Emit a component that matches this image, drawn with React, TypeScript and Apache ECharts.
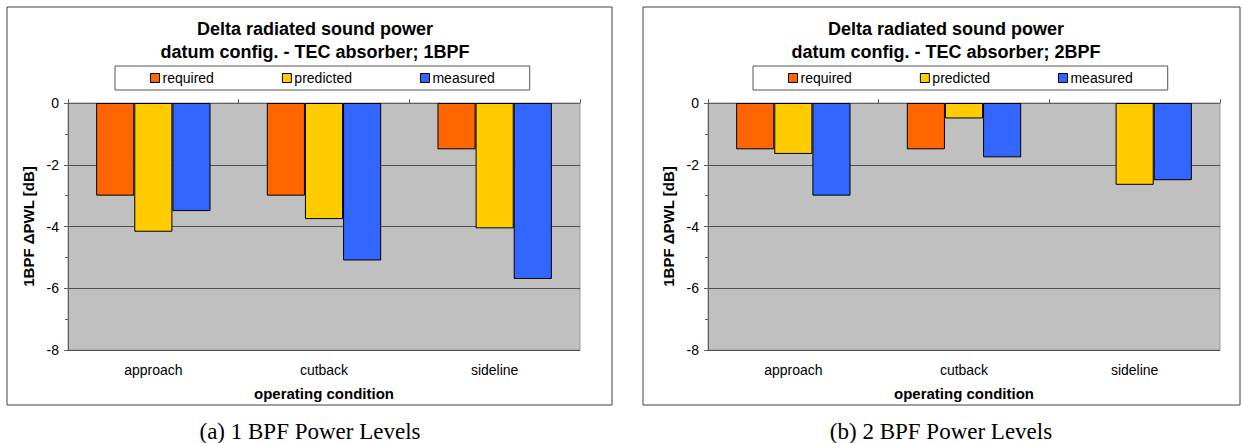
import React, { useEffect, useRef } from "react";
import * as echarts from "echarts";

const categories = ["approach", "cutback", "sideline"];
const seriesNames = ["required", "predicted", "measured"];
const colors = ["#ff6600", "#ffcc00", "#3366ff"];
const bpf1Required = [-3.0, -3.0, -1.5];
const bpf1Predicted = [-4.17, -3.76, -4.06];
const bpf1Measured = [-3.5, -5.1, -5.7];
const bpf2Required = [-1.5, -1.5, null];
const bpf2Predicted = [-1.65, -0.5, -2.65];
const bpf2Measured = [-3.0, -1.76, -2.5];
const yTicks = { min: -8, max: 0, interval: 2 };

const FONT = "Liberation Sans, Arial, sans-serif";

export default function App() {
  const ref = useRef<HTMLDivElement>(null);
  useEffect(() => {
    if (!ref.current) return;
    const chart = echarts.init(ref.current, undefined, { renderer: "svg" });
    const panels = [
      { left: 68, frameX: 7, frameW: 605, cx: 310, bpf: "1BPF", caption: "(a) 1 BPF Power Levels", data: [bpf1Required, bpf1Predicted, bpf1Measured], legendLeft: 115 },
      { left: 708, frameX: 643, frameW: 597, cx: 941, bpf: "2BPF", caption: "(b) 2 BPF Power Levels", data: [bpf2Required, bpf2Predicted, bpf2Measured], legendLeft: 753 },
    ];
    const grids: any[] = [];
    const xAxes: any[] = [];
    const yAxes: any[] = [];
    const series: any[] = [];
    const titles: any[] = [];
    const legends: any[] = [];
    const graphics: any[] = [];
    panels.forEach((p, i) => {
      grids.push({
        left: p.left, top: 103, width: 512, height: 247,
        show: true, backgroundColor: "#c0c0c0", borderColor: "#9a9a9a", borderWidth: 1,
        containLabel: false,
      });
      xAxes.push({
        type: "category", gridIndex: i, data: categories, position: "bottom",
        axisLine: { show: false }, axisTick: { show: false },
        axisLabel: { color: "#000", fontFamily: FONT, fontSize: 14, margin: 13 },
        name: "operating condition", nameLocation: "middle", nameGap: 36,
        nameTextStyle: { color: "#000", fontFamily: FONT, fontSize: 15, fontWeight: "bold" },
      });
      xAxes.push({
        type: "category", gridIndex: i, data: categories, position: "top",
        axisLine: { show: true, onZero: false, lineStyle: { color: "#606060", width: 1 } },
        axisTick: { show: true, length: 4, lineStyle: { color: "#606060" } },
        axisLabel: { show: false },
      });
      yAxes.push({
        type: "value", gridIndex: i, min: yTicks.min, max: yTicks.max, interval: yTicks.interval,
        axisLine: { show: true, lineStyle: { color: "#606060" } },
        axisTick: { show: true, length: 4, lineStyle: { color: "#606060" } },
        minorTick: { show: true, splitNumber: 2, length: 3, lineStyle: { color: "#606060" } },
        splitLine: { show: true, lineStyle: { color: "#505050", width: 1 } },
        axisLabel: { color: "#000", fontFamily: FONT, fontSize: 14, margin: 9 },
        name: "1BPF \u0394PWL [dB]", nameLocation: "middle", nameGap: 32, nameRotate: 90,
        nameTextStyle: { color: "#000", fontFamily: FONT, fontSize: 15, fontWeight: "bold" },
      });
      p.data.forEach((d, k) => {
        series.push({
          type: "bar", name: seriesNames[k], data: d, xAxisIndex: i * 2, yAxisIndex: i,
          barGap: "0%", barCategoryGap: "33%",
          itemStyle: { color: colors[k], borderColor: "#000", borderWidth: 1 },
        });
      });
      titles.push({
        text: "Delta radiated sound power\ndatum config. - TEC absorber; " + p.bpf,
        left: p.cx, textAlign: "center", top: 12,
        textStyle: { fontFamily: FONT, fontSize: 18, fontWeight: "bold", color: "#000", lineHeight: 23 },
      });
      legends.push({
        data: seriesNames, left: p.legendLeft, top: 66, orient: "horizontal",
        padding: [5, 35, 5, 35], itemGap: 68, itemWidth: 9, itemHeight: 9,
        borderColor: "#555", borderWidth: 1, icon: "rect",
        itemStyle: { borderColor: "#000", borderWidth: 1 },
        textStyle: { fontFamily: FONT, fontSize: 14, color: "#000", padding: [0, 0, 0, -2] },
        selectedMode: false,
      });
      graphics.push({
        type: "rect", shape: { x: p.frameX, y: 7, width: p.frameW, height: 398 },
        style: { fill: "none", stroke: "#404040", lineWidth: 1 }, z: -1, silent: true,
      });
      graphics.push({
        type: "text", x: p.cx, y: 431,
        style: { text: p.caption, font: '23px "Liberation Serif", serif', fill: "#000", textAlign: "center", textVerticalAlign: "middle" },
      });
    });
    chart.setOption({
      animation: false,
      backgroundColor: "#fff",
      title: titles,
      legend: legends,
      grid: grids,
      xAxis: xAxes,
      yAxis: yAxes,
      series,
      graphic: graphics,
    });
    return () => chart.dispose();
  }, []);
  return <div ref={ref} style={{ position: "fixed", left: 0, top: 0, width: 1244, height: 443 }} />;
}
